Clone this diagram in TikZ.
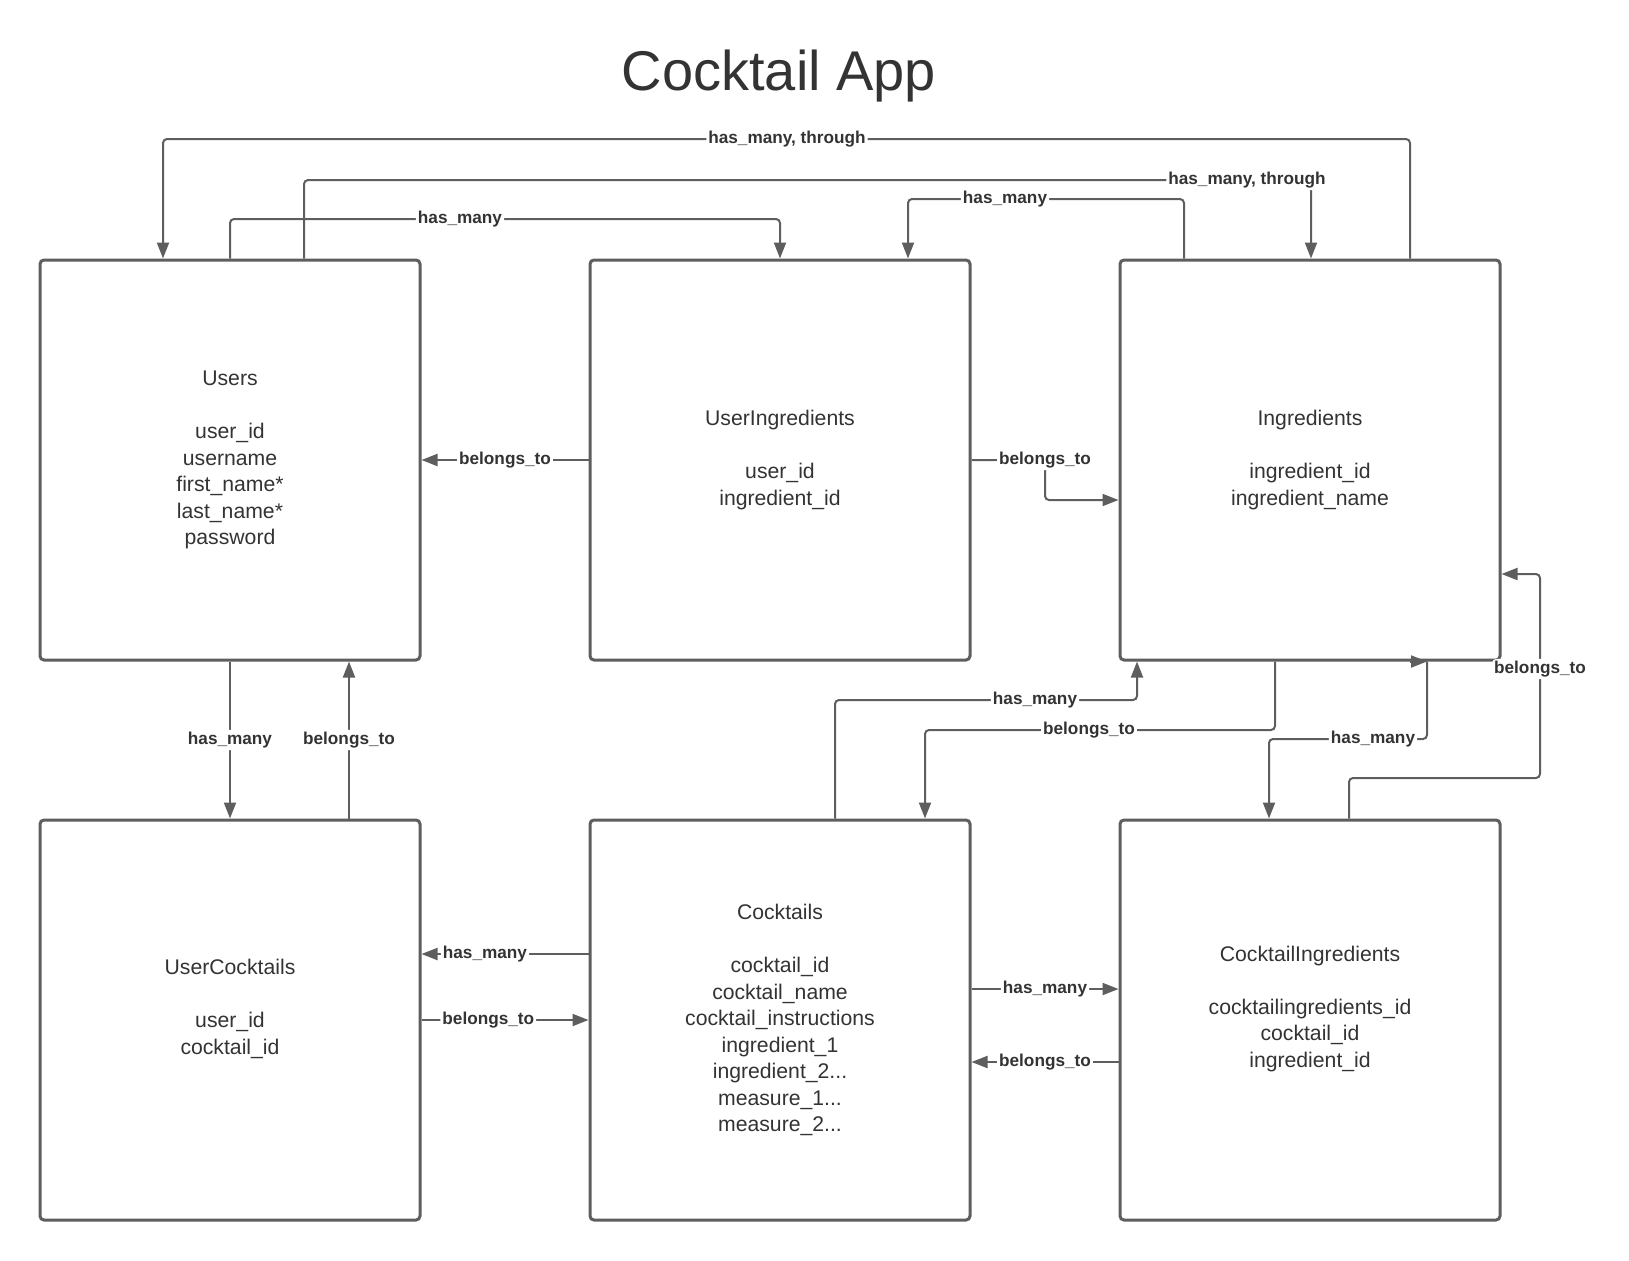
\documentclass[tikz,border=0pt]{standalone}
\usepackage{fontspec}
\setmainfont{Liberation Sans}
\usetikzlibrary{arrows.meta}

\definecolor{linegray}{HTML}{5E5E5E}
\definecolor{textgray}{HTML}{333333}

\begin{document}
\begin{tikzpicture}[x=0.5pt,y=-0.5pt,
    entity/.style={draw=linegray,line width=1.5pt,rounded corners=2pt,fill=white,
        minimum width=190pt,minimum height=200pt,align=center,text=textgray,
        font=\fontsize{10.6pt}{13.25pt}\selectfont},
    link/.style={draw=linegray,line width=1pt,rounded corners=2pt,
        -{Triangle[length=8pt,width=6pt]}},
    rel/.style={fill=white,inner sep=1pt,text=textgray,
        font=\fontsize{8.6pt}{10pt}\selectfont\bfseries}]
    
    % fix the page size
    \useasboundingbox (0,0) rectangle (1629,1260);
    
    \node[font=\fontsize{28pt}{34pt}\selectfont,text=textgray] (title) at (779,76) {Cocktail App};
    
    % draw tables
    \node[entity] (users) at (230,460) {Users\\[13.25pt]user\_id\\username\\first\_name*\\last\_name*\\password};
    \node[entity] (useringr) at (780,460) {UserIngredients\\[13.25pt]user\_id\\ingredient\_id};
    \node[entity] (ingr) at (1310,460) {Ingredients\\[13.25pt]ingredient\_id\\ingredient\_name};
    \node[entity] (usercock) at (230,1020) {UserCocktails\\[13.25pt]user\_id\\cocktail\_id\\\mbox{}};
    \node[entity] (cock) at (780,1020) {Cocktails\\[13.25pt]cocktail\_id\\cocktail\_name\\cocktail\_instructions\\ingredient\_1\\ingredient\_2...\\measure\_1...\\measure\_2...};
    \node[entity] (cockingr) at (1310,1020) {CocktailIngredients\\[13.25pt]cocktailingredients\_id\\cocktail\_id\\ingredient\_id\\\mbox{}};
    
    % relations along the top
    \draw[link] (ingr.north -| 1410,0) |- (787,139) node[rel] {has\_many, through} -| (users.north -| 163,0);
    \draw[link] (users.north -| 304,0) |- (1311,180) node[rel,xshift=-32pt] {has\_many, through} -- (ingr.north -| 1311,0);
    \draw[link] (users.north) |- (460,219) node[rel] {has\_many} -| (useringr.north);
    \draw[link] (ingr.north -| 1184,0) |- (1005,199) node[rel] {has\_many} -| (useringr.north -| 908,0);
    
    % UserIngredients
    \draw[link] (useringr.west) -- node[rel] {belongs\_to} (users.east);
    \draw[link] (useringr.east) -- (1045,460) node[rel] {belongs\_to} |- (ingr.west |- 0,500);
    
    % UserCocktails
    \draw[link] (users.south) -- node[rel] {has\_many} (usercock.north);
    \draw[link] (usercock.north -| 349,0) -- node[rel] {belongs\_to} (users.south -| 349,0);
    \draw[link] (cock.west |- 0,954) -- node[rel,pos=0.62] {has\_many} (usercock.east |- 0,954);
    \draw[link] (usercock.east |- 0,1020) -- node[rel,pos=0.4] {belongs\_to} (cock.west |- 0,1020);
    
    % CocktailIngredients
    \draw[link] (cock.east |- 0,989) -- node[rel] {has\_many} (cockingr.west |- 0,989);
    \draw[link] (cockingr.west |- 0,1062) -- node[rel] {belongs\_to} (cock.east |- 0,1062);
    
    % Ingredients from below
    \draw[link] (cock.north -| 835,0) |- (1035,700) node[rel] {has\_many} -| (ingr.south -| 1137,0);
    \draw[link] (ingr.south -| 1275,0) |- (1089,730) node[rel] {belongs\_to} -| (cock.north -| 925,0);
    \draw[link] (ingr.south -| 1410,0) -- (ingr.south -| 1427,0);
    \draw[link] (ingr.south -| 1427,0) |- (1373,739) node[rel] {has\_many} -| (cockingr.north -| 1269,0);
    \draw[link] (cockingr.north -| 1349,0) |- (1540,778) -- (1540,669) node[rel] {belongs\_to} |- (ingr.east |- 0,574);
    
\end{tikzpicture}
\end{document}
